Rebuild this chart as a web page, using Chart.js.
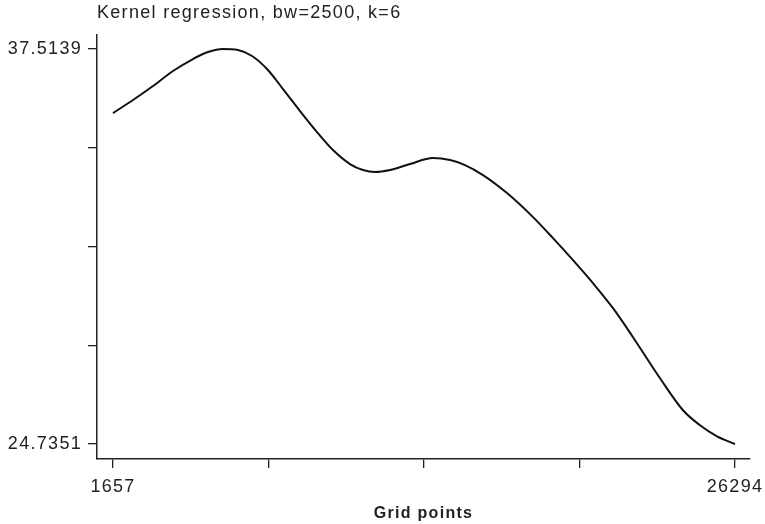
<!DOCTYPE html>
<html>
<head>
<meta charset="utf-8">
<script src="https://cdn.jsdelivr.net/npm/chart.js@4/dist/chart.umd.min.js"></script>
<style>
  body { margin: 0; background: #fff; }
  canvas { display: block; }
</style>
</head>
<body>
<canvas id="kernel-chart" width="765" height="524"></canvas>
<script>
// kernel regression estimate evaluated on the grid
const gridPoints = [1657, 2449, 3241, 4033, 4825, 5420, 6014, 6608, 7163, 7757, 8391, 9065, 9737, 10371, 11044, 11559, 12035, 12629, 13421, 14332, 15006, 15599, 16312, 17263, 18293, 19085, 19877, 20669, 21462, 22254, 23324, 24234, 24908, 25581, 26294];
const estimates = [35.442, 35.863, 36.316, 36.802, 37.190, 37.417, 37.5139, 37.482, 37.287, 36.866, 36.219, 35.507, 34.827, 34.244, 33.791, 33.597, 33.532, 33.597, 33.791, 33.985, 33.920, 33.759, 33.435, 32.852, 32.075, 31.395, 30.683, 29.938, 29.129, 28.190, 26.863, 25.827, 25.341, 24.985, 24.7351];

const xTicks = [1657, 7816.25, 13975.5, 20134.75, 26294];
const xTickLabels = ['1657', '', '', '', '26294'];
const yTicks = [37.5139, 34.3192, 31.1245, 27.9298, 24.7351];
const yTickLabels = ['37.5139', '', '', '', '24.7351'];

const titleText = 'Kernel regression, bw=2500, k=6';
const xTitle = 'Grid points';

const ink = '#222';
const fontFamily = '"Liberation Sans", Arial, Helvetica, sans-serif';

const ctx = document.getElementById('kernel-chart').getContext('2d');

// wider letter spacing like the printed figure
const spacing = {
    id: 'spacing',
    beforeLayout(chart) { chart.ctx.letterSpacing = '1.3px'; },
    beforeDraw(chart) { chart.ctx.letterSpacing = '1.3px'; }
};

// title sits flush with the y axis
const topTitle = {
    id: 'topTitle',
    afterDraw(chart) {
        const c = chart.ctx;
        c.save();
        c.letterSpacing = '1.3px';
        c.font = '18px ' + fontFamily;
        c.fillStyle = ink;
        c.textAlign = 'left';
        c.textBaseline = 'middle';
        c.fillText(titleText, chart.chartArea.left, 13);
        c.restore();
    }
};

const data = {
    datasets: [{
        data: gridPoints.map((x, i) => ({ x: x, y: estimates[i] })),
        borderColor: '#111',
        borderWidth: 2,
        pointRadius: 0,
        fill: false,
        cubicInterpolationMode: 'monotone'
    }]
};

const config = {
    type: 'line',
    data: data,
    options: {
        responsive: false,
        animation: false,
        layout: {
            padding: { top: 35, right: 15, left: 0, bottom: 0 }
        },
        plugins: {
            legend: { display: false },
            tooltip: { enabled: false }
        },
        scales: {
            x: {
                type: 'linear',
                min: 1023,
                max: 26888,
                afterBuildTicks: (scale) => { scale.ticks = xTicks.map(v => ({ value: v })); },
                afterFit: (scale) => {
                    scale.height = 65;
                    scale.paddingLeft = 0;
                    scale.paddingRight = 0;
                },
                ticks: {
                    autoSkip: false,
                    maxRotation: 0,
                    padding: 8,
                    color: ink,
                    font: { family: fontFamily, size: 18 },
                    callback: (value) => xTickLabels[xTicks.indexOf(value)]
                },
                grid: {
                    drawOnChartArea: false,
                    drawTicks: true,
                    tickLength: 9,
                    color: ink,
                    lineWidth: 1.3
                },
                border: { display: true, color: ink, width: 1.5 },
                title: {
                    display: true,
                    text: xTitle,
                    color: ink,
                    font: { family: fontFamily, size: 16, weight: 'bold' },
                    padding: { top: 0, bottom: 1 }
                }
            },
            y: {
                min: 24.2495,
                max: 37.967,
                afterBuildTicks: (scale) => { scale.ticks = yTicks.map(v => ({ value: v })); },
                afterFit: (scale) => {
                    scale.width = 97;
                    scale.paddingTop = 0;
                    scale.paddingBottom = 0;
                },
                ticks: {
                    autoSkip: false,
                    padding: 6,
                    color: ink,
                    font: { family: fontFamily, size: 18 },
                    callback: (value) => yTickLabels[yTicks.indexOf(value)]
                },
                grid: {
                    drawOnChartArea: false,
                    drawTicks: true,
                    tickLength: 9,
                    color: ink,
                    lineWidth: 1.3
                },
                border: { display: true, color: ink, width: 1.5 }
            }
        }
    },
    plugins: [spacing, topTitle]
};

const kernelChart = new Chart(ctx, config);
</script>
</body>
</html>
